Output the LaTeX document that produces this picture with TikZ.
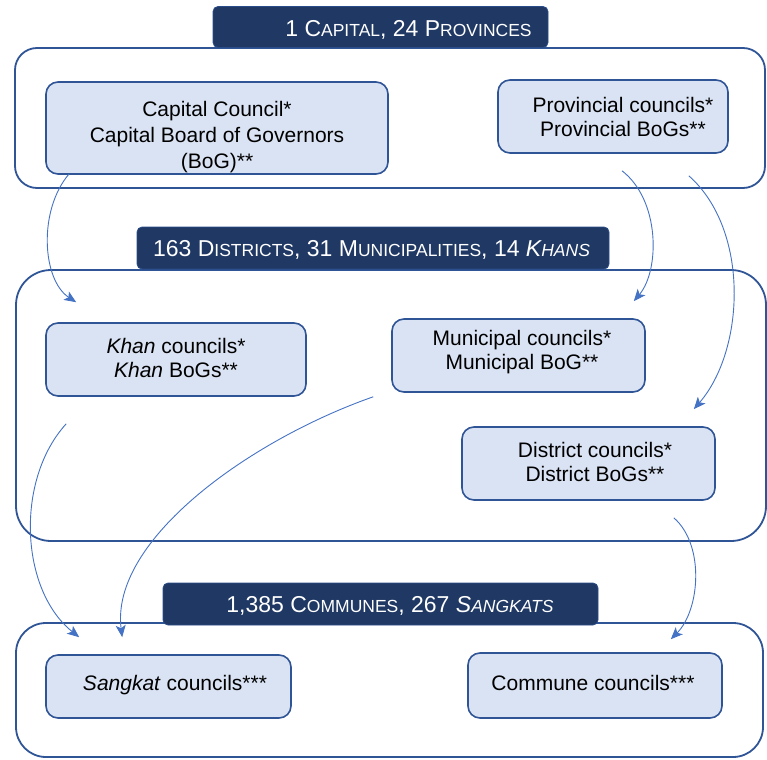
\documentclass[tikz,border=0pt]{standalone}
\usepackage{fontspec}
\setmainfont{Liberation Sans}
\usetikzlibrary{arrows.meta,calc}
\definecolor{navy}{HTML}{203864}
\definecolor{edgeblue}{HTML}{2F5597}
\definecolor{boxfill}{HTML}{DAE3F3}
\definecolor{arrowblue}{HTML}{4472C4}
\newcommand\mysc[1]{{\fontsize{17.5}{20}\selectfont #1}}
\begin{document}
\begin{tikzpicture}[x=1pt,y=-1pt,
  obox/.style={draw=edgeblue,line width=1.8pt,inner sep=0pt},
  ibox/.style={draw=edgeblue,line width=1.6pt,fill=boxfill,rounded corners=12pt,inner sep=0pt},
  tbox/.style={draw=edgeblue!70!navy,line width=0.8pt,fill=navy,rounded corners=5pt,inner sep=0pt},
  ttext/.style={text=white,font=\fontsize{23}{26}\selectfont,inner sep=0pt},
  btext/.style={text=black,font=\fontsize{21}{24}\selectfont,align=center,inner sep=0pt},
  conn/.style={draw=arrowblue,line width=0.9pt,-{Stealth[length=12pt,width=10pt,inset=3pt]}}
]
\useasboundingbox (0,0) rectangle (767,759);
% level boxes
\node[obox,rounded corners=22pt,minimum width=750,minimum height=140] (lvl1) at (390,118) {};
\node[obox,rounded corners=35pt,minimum width=750,minimum height=271] (lvl2) at (391,405.5) {};
\node[obox,rounded corners=30pt,minimum width=747,minimum height=134] (lvl3) at (389.5,690) {};
% titles
\node[tbox,minimum width=335,minimum height=41] (t1) at (380.5,27) {};
\node[ttext] (t1t) at (408.5,29.5) {1 C\mysc{APITAL}, 24 P\mysc{ROVINCES}};
\node[tbox,minimum width=472,minimum height=42] (t2) at (373,248) {};
\node[ttext] (t2t) at (371.5,249.5) {163 D\mysc{ISTRICTS}, 31 M\mysc{UNICIPALITIES}, 14 \textit{K\mysc{HANS}}};
\node[tbox,minimum width=435,minimum height=42] (t3) at (380.5,604) {};
\node[ttext] (t3t) at (390,605.5) {1,385 C\mysc{OMMUNES}, 267 \textit{S\mysc{ANGKATS}}};
% council boxes
\node[ibox,minimum width=342,minimum height=92] (cap) at (217,128) {};
\node[btext,font=\fontsize{21}{26}\selectfont] (capt) at (217,137) {Capital Council*\\Capital Board of Governors\\(BoG)**};
\node[ibox,minimum width=230,minimum height=73] (prov) at (613,116.5) {};
\node[btext] (provt) at (623,117) {Provincial councils*\\Provincial BoGs**};
\node[ibox,minimum width=260,minimum height=73] (khan) at (176,359.5) {};
\node[btext] (khant) at (176,358) {\textit{Khan} councils*\\\textit{Khan} BoGs**};
\node[ibox,minimum width=253,minimum height=73] (muni) at (518.5,355.5) {};
\node[btext] (munit) at (522,352) {Municipal councils*\\Municipal BoG**};
\node[ibox,minimum width=253,minimum height=73] (dist) at (588.5,463.5) {};
\node[btext] (distt) at (595,462) {District councils*\\District BoGs**};
\node[ibox,minimum width=245,minimum height=63] (sang) at (168.5,686.5) {};
\node[btext] (sangt) at (175,685) {\textit{Sangkat} councils***};
\node[ibox,minimum width=254,minimum height=65] (comm) at (595,685.5) {};
\node[btext] (commt) at (593,683) {Commune councils***};
% connectors
\draw[conn] ([xshift=24pt,yshift=1pt]cap.south west) .. controls (38,210) and (42,280) .. ([xshift=31pt,yshift=20pt]khan.north west);
\draw[conn] ([xshift=9pt,yshift=-17pt]prov.south) .. controls (660,200) and (660,270) .. ([xshift=-12pt,yshift=17pt]muni.north east);
\draw[conn] ([xshift=-40pt,yshift=-22pt]prov.south east) .. controls (750,230) and (745,350) .. ([xshift=-22pt,yshift=17pt]dist.north east);
\draw[conn] ([xshift=21pt,yshift=-27pt]khan.south west) .. controls (15,480) and (20,590) .. ([xshift=34pt,yshift=17pt]sang.north west);
\draw[conn] ([xshift=-18pt,yshift=-4pt]muni.south west) .. controls (250,440) and (110,540) .. ([xshift=77pt,yshift=17pt]sang.north west);
\draw[conn] ([xshift=-42pt,yshift=-17pt]dist.south east) .. controls (705,545) and (700,610) .. ([xshift=-52pt,yshift=13pt]comm.north east);
\end{tikzpicture}
\end{document}
